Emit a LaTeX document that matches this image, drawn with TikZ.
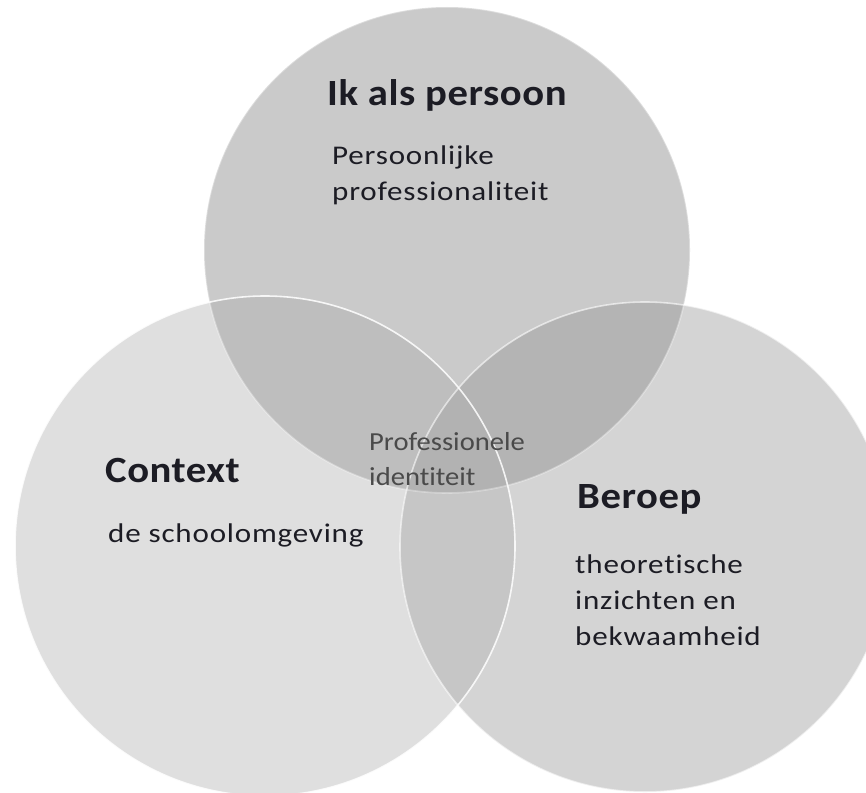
\documentclass[tikz,border=0pt]{standalone}
\usepackage{fontspec}
\setmainfont{Carlito}[FakeStretch=1.1, Ligatures=NoCommon]
\newfontfamily\titlefont{Carlito}[FakeStretch=1.1, LetterSpace=1.5, Ligatures=NoCommon]
\newfontfamily\bodyfont{Carlito}[FakeStretch=1.15, LetterSpace=3, Ligatures=NoCommon]
\definecolor{ctop}{HTML}{CACACA}
\definecolor{cleft}{HTML}{DFDFDF}
\definecolor{cright}{HTML}{D4D4D4}
\definecolor{ctl}{HTML}{BEBEBE}
\definecolor{ctr}{HTML}{B4B4B4}
\definecolor{clr}{HTML}{C6C6C6}
\definecolor{call}{HTML}{B2B2B2}
\definecolor{txt}{HTML}{1C1C24}
\definecolor{txtgray}{HTML}{4A4A4A}
\begin{document}
\begin{tikzpicture}[x=1pt,y=-1pt,
  titletext/.style={font=\titlefont\fontsize{37}{44}\selectfont\bfseries, text=txt, anchor=base west, inner sep=0pt},
  bodytext/.style={font=\bodyfont\fontsize{27}{36}\selectfont, text=txt, anchor=base west, inner sep=0pt},
  centertext/.style={font=\fontsize{26}{36}\selectfont, text=txtgray, anchor=base west, inner sep=0pt},
  rim/.style={draw=white, line width=1.6pt}]
\useasboundingbox (0,0) rectangle (866,792);
\clip (0,0) rectangle (866,792);
\coordinate (ct) at (447,250);
\coordinate (cl) at (265,546);
\coordinate (cr) at (645,547);
% base fills
\fill[ctop] (ct) circle[radius=243pt];
\fill[cleft] (cl) circle[radius=250pt];
\fill[cright] (cr) circle[radius=245pt];
% left/right overlap
\begin{scope}
  \clip (cl) circle[radius=250pt];
  \fill[clr] (cr) circle[radius=245pt];
\end{scope}
% overlaps with top circle
\begin{scope}
  \clip (ct) circle[radius=243pt];
  \fill[ctl] (cl) circle[radius=250pt];
  \fill[ctr] (cr) circle[radius=245pt];
  \clip (cl) circle[radius=250pt];
  \fill[call] (cr) circle[radius=245pt];
\end{scope}
% outlines
\draw[rim, opacity=0.35] (ct) circle[radius=243pt];
\draw[rim, opacity=0.6] (cr) circle[radius=245pt];
\draw[rim, opacity=0.85] (cl) circle[radius=250pt];
% texts
\node[titletext] (t1) at (327,105) {Ik als persoon};
\node[bodytext] (t1a) at (332,164) {Persoonlijke};
\node[bodytext] (t1b) at (332,200) {professionaliteit};
\node[titletext] (t2) at (105,482) {Context};
\node[bodytext] (t2a) at (108,542) {de schoolomgeving};
\node[titletext] (t3) at (577,508) {Beroep};
\node[bodytext] (t3a) at (575,573) {theoretische};
\node[bodytext] (t3b) at (575,609) {inzichten en};
\node[bodytext] (t3c) at (575,645) {bekwaamheid};
\node[centertext] (c1) at (369,450) {Professionele};
\node[centertext] (c2) at (369,485) {identiteit};
\end{tikzpicture}
\end{document}
